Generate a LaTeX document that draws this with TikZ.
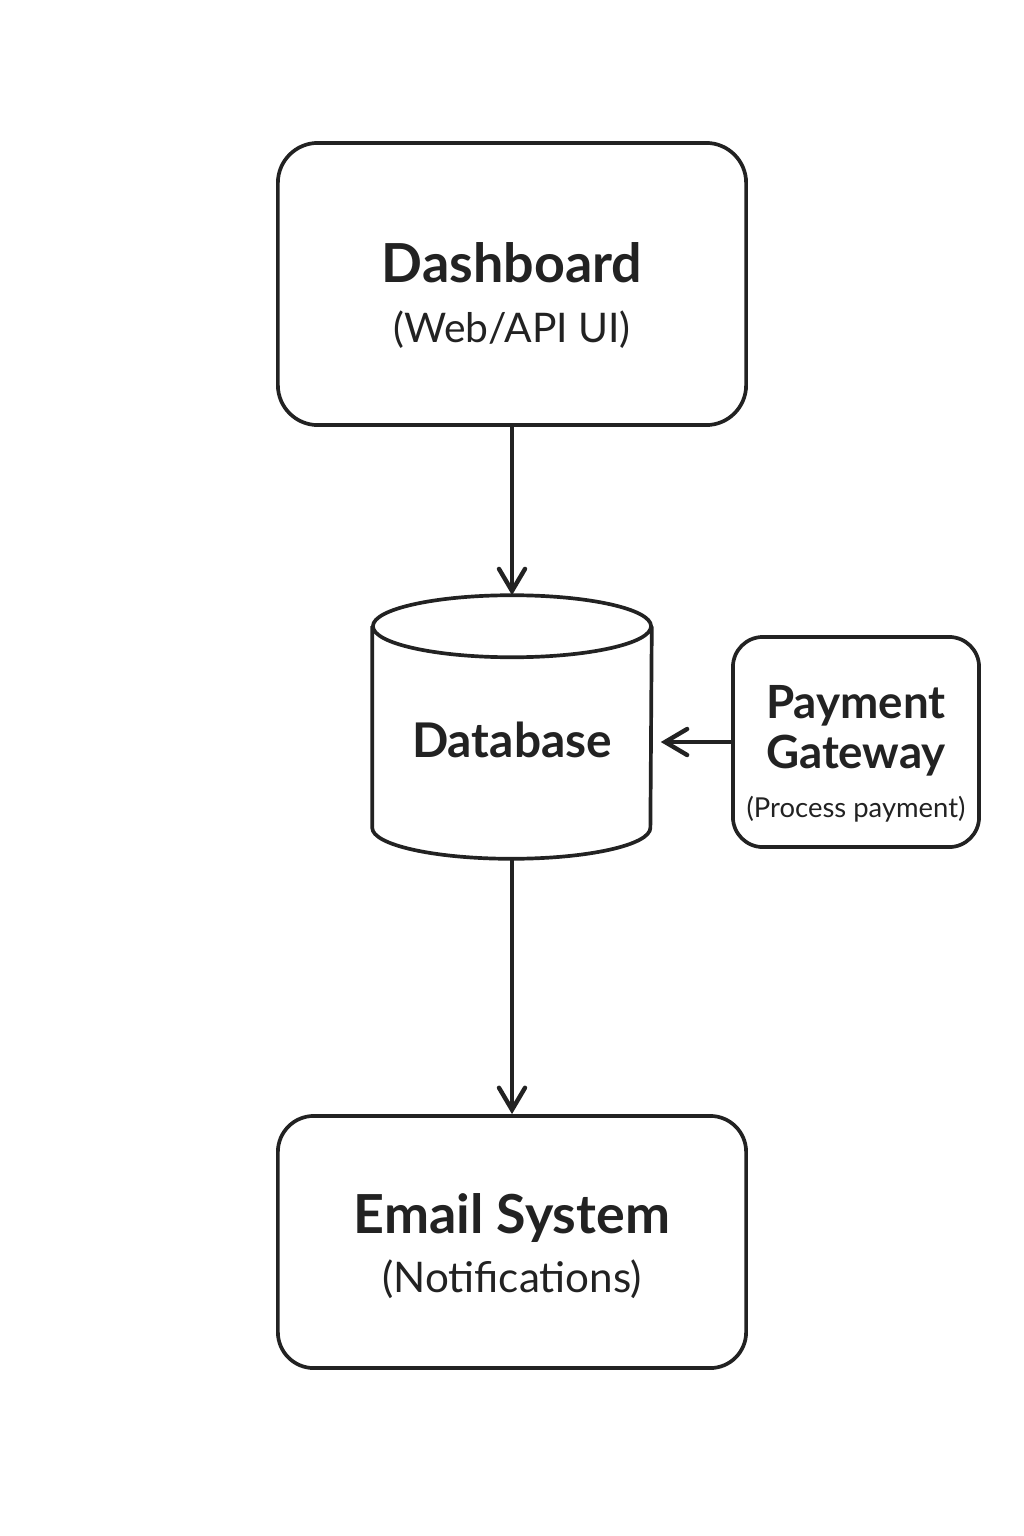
\documentclass[tikz,border=0pt]{standalone}
\usepackage{fontspec}
\setmainfont{Lato}
\usetikzlibrary{arrows.meta}
\definecolor{ink}{HTML}{222222}
\tikzset{
  box/.style={draw=ink,line width=1.05pt,rounded corners=0.36cm},
  ttl/.style={anchor=base,inner sep=0pt,font=\fontsize{15.3pt}{18pt}\selectfont\bfseries},
  midttl/.style={anchor=base,inner sep=0pt,font=\fontsize{13pt}{15pt}\selectfont\bfseries},
  subttl/.style={anchor=base,inner sep=0pt,font=\fontsize{11.6pt}{14pt}\selectfont},
  tinyttl/.style={anchor=base,inner sep=0pt,font=\fontsize{7.8pt}{9pt}\selectfont},
  flow/.style={draw=ink,line width=0.95pt,-{Straight Barb[length=2.2mm,width=2.6mm,line width=1.25pt,line cap=round]}}
}
\begin{document}
\begin{tikzpicture}[x=0.01cm,y=-0.01cm]
  \useasboundingbox (0,0) rectangle (1024,1536);

  % Dashboard
  \node[box,minimum width=4.68cm,minimum height=2.82cm,rounded corners=0.4cm] (dash) at (512,284) {};
  \node[ttl,text=ink] (dashT) at (512,282) {Dashboard};
  \node[subttl,text=ink] (dashS) at (512,342) {(Web/API UI)};

  % Database (円柱)
  \node[minimum width=2.78cm,minimum height=2.62cm,inner sep=0pt] (db) at (512,727) {};
  \draw[draw=ink,line width=1.05pt] ([yshift=-3.1mm]db.north) ellipse [x radius=1.39cm,y radius=0.31cm];
  \draw[draw=ink,line width=1.05pt] ([yshift=-3.1mm]db.north west) -- ([yshift=3.1mm]db.south west)
    arc[start angle=180,end angle=360,x radius=1.39cm,y radius=0.31cm] -- ([yshift=-3.1mm]db.north east);
  \node[midttl,text=ink,font=\fontsize{13.6pt}{16pt}\selectfont\bfseries] (dbT) at (512,757) {Database};

  % Payment Gateway
  \node[box,minimum width=2.46cm,minimum height=2.1cm,rounded corners=0.3cm] (pay) at (856,742) {};
  \node[midttl,text=ink] (payA) at (856,718) {Payment};
  \node[midttl,text=ink] (payB) at (856,768) {Gateway};
  \node[tinyttl,text=ink] (payC) at (856,817) {(Process payment)};

  % Email System
  \node[box,minimum width=4.68cm,minimum height=2.52cm] (mail) at (512,1242) {};
  \node[ttl,text=ink] (mailT) at (512,1233) {Email System};
  \node[subttl,text=ink,font=\fontsize{12pt}{14pt}\selectfont] (mailS) at (512,1292) {(Notifications)};

  % 矢印
  \draw[flow] (dash.south) -- (db.north);
  \draw[flow,shorten >=0.9mm] (pay.west) -- (pay.west -| db.east);
  \draw[flow] (db.south) -- (mail.north);
\end{tikzpicture}
\end{document}
